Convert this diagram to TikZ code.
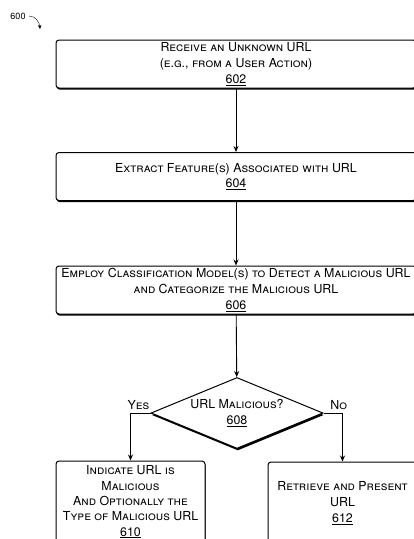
\documentclass[tikz,border=0pt]{standalone}
\usepackage{fontspec}
\setmainfont{TeX Gyre Heros}
\usetikzlibrary{arrows.meta,shapes.geometric,shadows}

\begin{document}
\begin{tikzpicture}[x=1pt,y=-1pt,
    stepbox/.style={draw,line width=1pt,rounded corners=3pt,fill=white,
      align=center,inner sep=0pt,minimum width=#1,minimum height=48pt,
      font=\fontsize{12.4}{15.7}\selectfont\scshape,
      drop shadow={shadow xshift=0.6pt,shadow yshift=-1.6pt,
        fill=black,opacity=1}},
    stepbox/.default=360pt,
    ask/.style={draw,line width=1pt,diamond,aspect=2.4,fill=white,
      align=center,inner sep=0pt,minimum width=172pt,minimum height=71pt,
      font=\fontsize{12.4}{15.7}\selectfont\scshape,
      drop shadow={shadow xshift=0.8pt,shadow yshift=-2pt,
        fill=black,opacity=1}},
    arrow/.style={-{Stealth[length=6pt,width=5pt]},line width=0.9pt},
    lbl/.style={font=\fontsize{12.4}{14}\selectfont\scshape,inner sep=1pt},
    >=Stealth
  ]
  \useasboundingbox (0,0) rectangle (413,539);

  % figure number
  \node[font=\fontsize{9}{10}\selectfont] (fig) at (18,16) {600};
  \coordinate (figtip) at (40,29);
  \draw[-{Stealth[length=4pt,width=3.5pt]},thin]
    (fig.east) to[out=0,in=95] (figtip);

  % main column
  \node[stepbox] (recv) at (236,64)
    {Receive an Unknown URL\\(e.g., from a User Action)\\\underline{602}};
  \node[stepbox] (feat) at (236,176.5)
    {Extract Feature(s) Associated with URL\\\underline{604}};
  \node[stepbox] (model) at (236,290)
    {Employ Classification Model(s) to Detect a Malicious URL\\
     and Categorize the Malicious URL\\\underline{606}};
  \node[ask] (mal) at (237,413) {URL Malicious?\\\underline{608}};

  % outcomes
  \node[stepbox=149pt,minimum height=82pt,
    font=\fontsize{12.4}{15.3}\selectfont\scshape] (flag) at (130.5,502)
    {Indicate URL is\\Malicious\\And Optionally the\\Type of Malicious URL\\\underline{610}};
  \node[stepbox=149pt,minimum height=82pt] (show) at (342.5,503)
    {Retrieve and Present\\URL\\\underline{612}};

  \foreach \a/\b in {recv/feat, feat/model, model/mal} {
    \draw[arrow] (\a) -- (\b); }

  \draw[arrow] (mal.west) -| node[lbl,pos=0.3,above=2pt] {Yes} (flag.north);
  \draw[arrow] (mal.east) -| node[lbl,pos=0.4,above=2pt] {No} (show.north);
\end{tikzpicture}
\end{document}
